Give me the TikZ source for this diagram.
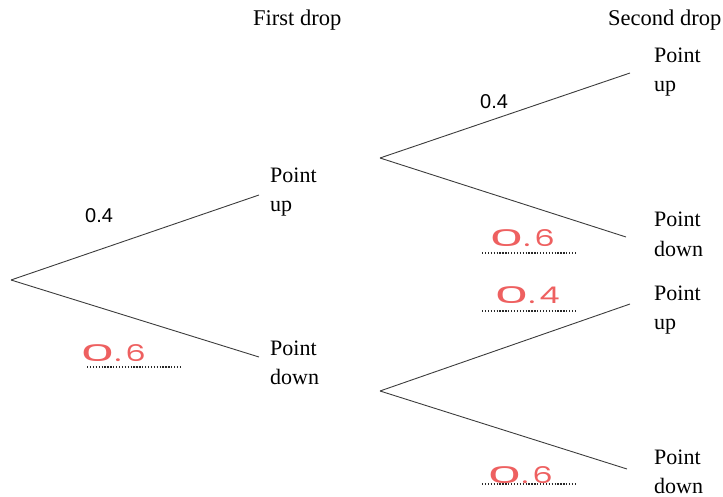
\documentclass[tikz,border=0pt]{standalone}
\usepackage{fontspec}
\usepackage{graphicx}
\setmainfont{Liberation Serif}
\newfontfamily\numfont{Liberation Sans}
\newfontfamily\handfont[LetterSpace=12]{Poppins}
\newcommand{\wideoh}{\scalebox{1.7}[1]{0}}
\definecolor{branch}{RGB}{60,60,60}
\definecolor{pen}{RGB}{238,96,96}
\definecolor{dots}{RGB}{40,40,40}
\begin{document}
\begin{tikzpicture}[x=1pt,y=-1pt,
  edge/.style={draw=branch,line width=0.9pt},
  outcome/.style={anchor=base west,inner sep=0pt,align=left,font=\fontsize{22}{29}\selectfont},
  header/.style={anchor=base west,inner sep=0pt,font=\fontsize{22.5}{28}\selectfont},
  given/.style={anchor=base west,inner sep=0pt,font=\numfont\fontsize{20}{24}\selectfont},
  answer/.style={anchor=base west,inner sep=0pt,text=pen,xscale=1.4,font=\handfont\fontsize{23}{28}\selectfont},
  blank/.style={draw=dots,line width=1.3pt,dash pattern=on 1.3pt off 1.6pt}]
\useasboundingbox (0,0) rectangle (723,497);
% headers
\node[header] (h1) at (253,26) {First drop};
\node[header] (h2) at (608,26) {Second drop};
% branch points
\coordinate (r) at (11,280);
\coordinate (u) at (259,195);
\coordinate (d) at (259,357);
\coordinate (u0) at (380,158);
\coordinate (uu) at (630,73);
\coordinate (ud) at (626,237);
\coordinate (d0) at (380,391);
\coordinate (du) at (630,304);
\coordinate (dd) at (627,469);
% branches
\draw[edge] (r) -- (u);
\draw[edge] (r) -- (d);
\draw[edge] (u0) -- (uu);
\draw[edge] (u0) -- (ud);
\draw[edge] (d0) -- (du);
\draw[edge] (d0) -- (dd);
% outcomes (anchored at the baseline of the second line)
\node[outcome] (tu) at (270,212) {Point\\up};
\node[outcome] (td) at (270,384) {Point\\down};
\node[outcome] (tuu) at (654,92) {Point\\up};
\node[outcome] (tud) at (654,256) {Point\\down};
\node[outcome] (tdu) at (654,329) {Point\\up};
\node[outcome] (tdd) at (654,493) {Point\\down};
% given probabilities
\node[given] (p1) at (85,223) {0.4};
\node[given] (p2) at (480,109) {0.4};
% blanks
\coordinate (b1a) at (87,367); \coordinate (b1b) at (182,367);
\coordinate (b2a) at (482,253); \coordinate (b2b) at (576,253);
\coordinate (b3a) at (482,311); \coordinate (b3b) at (576,311);
\coordinate (b4a) at (482,484); \coordinate (b4b) at (576,484);
\draw[blank] (b1a) -- (b1b);
\draw[blank] (b2a) -- (b2b);
\draw[blank] (b3a) -- (b3b);
\draw[blank] (b4a) -- (b4b);
% handwritten answers
\node[answer] (a1) at (80,361) {\wideoh.6};
\node[answer] (a2) at (489,247) {\wideoh.6};
\node[answer] (a3) at (494,303) {\wideoh.4};
\node[answer] (a4) at (487,483) {\wideoh.6};
\end{tikzpicture}
\end{document}
